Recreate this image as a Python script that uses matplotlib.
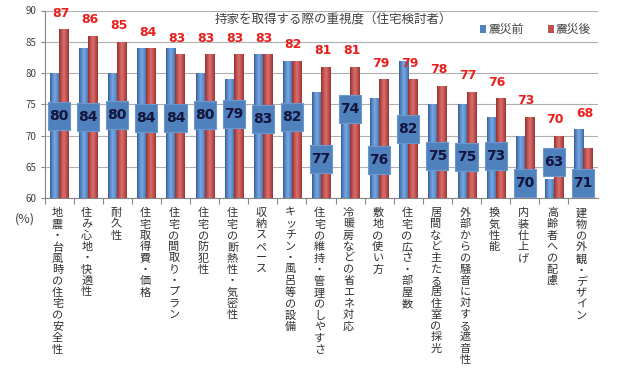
import matplotlib
matplotlib.use("Agg")
import matplotlib.pyplot as plt
import numpy as np
from matplotlib.patches import Rectangle
from matplotlib.colors import LinearSegmentedColormap
from matplotlib.transforms import offset_copy

plt.rcParams['font.family'] = ['Noto Sans CJK JP', 'DejaVu Sans']

categories = [
    "地震・台風時の住宅の安全性", "住み心地・快適性", "耐久性", "住宅取得費・価格",
    "住宅の間取り・プラン", "住宅の防犯性", "住宅の断熱性・気密性", "収納スペース",
    "キッチン・風呂等の設備", "住宅の維持・管理のしやすさ", "冷暖房などの省エネ対応",
    "敷地の使い方", "住宅の広さ・部屋数", "居間など主たる居住室の採光",
    "外部からの騒音に対する遮音性", "換気性能", "内装仕上げ", "高齢者への配慮",
    "建物の外観・デザイン",
]
before = [80, 84, 80, 84, 84, 80, 79, 83, 82, 77, 74, 76, 82, 75, 75, 73, 70, 63, 71]
after = [87, 86, 85, 84, 83, 83, 83, 83, 82, 81, 81, 79, 79, 78, 77, 76, 73, 70, 68]
series_names = ["震災前", "震災後"]
title = "持家を取得する際の重視度（住宅検討者）"
yticks = [60, 65, 70, 75, 80, 85, 90]

# layout: heights (data units) where the boxed 震災前 labels were placed
box_label_y = [73.1, 72.9, 73.3, 72.8, 72.8, 73.3, 73.4, 72.6, 73.0, 66.2,
               74.2, 66.1, 71.0, 66.7, 66.6, 66.7, 62.4, 65.8, 62.4]

BLUE = "#4F81BD"
RED = "#C0504D"
YMIN, YMAX = 60, 90

fig = plt.figure(figsize=(6.4, 3.74), dpi=100)
ax = fig.add_axes([44.5 / 640, 1 - 198 / 374, 553 / 640, 187.5 / 374])

n = len(categories)
xs = np.arange(n)
bw = 0.31

blue_cmap = LinearSegmentedColormap.from_list(
    "b", ["#345E96", "#5B8DCB", "#79A6DE", "#5B8DCB", "#3A67A3"])
red_cmap = LinearSegmentedColormap.from_list(
    "r", ["#8E3431", "#C2514E", "#D8716E", "#C2514E", "#983835"])
grad = np.linspace(0, 1, 64).reshape(1, -1)

for offs, vals, cmap in [(-bw / 2, before, blue_cmap), (bw / 2, after, red_cmap)]:
    bars = ax.bar(xs + offs, vals, width=bw, color='none', edgecolor='none',
                  zorder=3)
    for b in bars:
        x0 = b.get_x()
        x1 = x0 + b.get_width()
        im = ax.imshow(grad, extent=(x0, x1, YMIN, b.get_height()), cmap=cmap,
                       aspect='auto', zorder=3, interpolation='bilinear')
        im.set_clip_path(b)

ax.set_xlim(-0.5, n - 0.5)
ax.set_ylim(YMIN, YMAX)
ax.set_yticks(yticks)
ax.tick_params(axis='y', labelsize=7, colors="#868686", labelcolor="#404040",
               length=3, pad=3)
ax.set_xticks([x + 0.5 for x in xs[:-1]] + [-0.5])
ax.set_xticklabels([])
ax.tick_params(axis='x', length=4, colors="#868686")
ax.grid(axis='y', color="#B0B0B0", linewidth=0.8, zorder=0)
ax.set_axisbelow(True)
for s in ["top", "right"]:
    ax.spines[s].set_visible(False)
for s in ["left", "bottom"]:
    ax.spines[s].set_color("#868686")

# red labels
for i, v in enumerate(after):
    y = v + 2.56
    if i == n - 1:
        y = max(v, before[i]) + 2.6
    ax.text(i + 0.05, y, str(v), ha='center', va='center', fontsize=9,
            fontweight='bold', color="#E8201C", family='DejaVu Sans', zorder=5)

# boxed blue labels
bxw, bxh = 0.76, 4.5
for i, v in enumerate(before):
    cy = box_label_y[i]
    ax.add_patch(Rectangle((i - bxw / 2, cy - bxh / 2), bxw, bxh, facecolor=BLUE,
                           edgecolor="#6E98CC", linewidth=0.8, zorder=6))
    ax.text(i, cy, str(v), ha='center', va='center', fontsize=10, fontweight='bold',
            color="#14143C", family='DejaVu Sans', zorder=7)

# vertical category labels
tr = offset_copy(ax.transData, fig=fig, x=0, y=-10, units='dots')
for i, lab in enumerate(categories):
    ax.text(i - 0.05, YMIN, "\n".join(lab), transform=tr, ha='center', va='top',
            fontsize=8, color="#303030", linespacing=1.16, clip_on=False)

fig.text(25 / 640, 1 - 219 / 374, "(%)", ha='center', va='center', fontsize=9,
         color="#404040")

# title
fig.text(333 / 640, 1 - 20 / 374, title, ha='center', va='center', fontsize=9,
         color="#404040")

# legend
for (sx, tx, col, name) in [(480, 489, BLUE, series_names[0]),
                            (548, 556, RED, series_names[1])]:
    fig.patches.append(Rectangle((sx / 640, 1 - 33 / 374), 6 / 640, 8 / 374,
                                 transform=fig.transFigure, facecolor=col,
                                 edgecolor='none'))
    fig.text(tx / 640, 1 - 29 / 374, name, ha='left', va='center', fontsize=8.5,
             color="#404040")

fig.savefig("out.png", dpi=100)
